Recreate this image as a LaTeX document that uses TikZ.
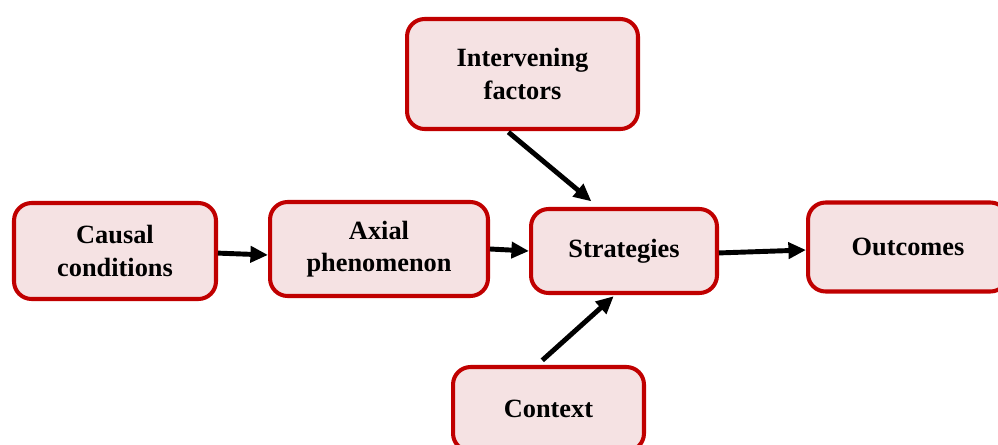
\documentclass[tikz,border=0pt]{standalone}
\usepackage{fontspec}
\setmainfont{Liberation Serif}
\usetikzlibrary{arrows.meta}

\definecolor{boxred}{HTML}{C00000}
\definecolor{boxfill}{HTML}{F5E2E3}

\tikzset{
  stage/.style={draw=boxred,fill=boxfill,line width=2.3pt,rounded corners=10pt,
    align=center,inner sep=0pt,font=\bfseries\fontsize{15}{18.6}\selectfont},
  flow/.style={line width=2.8pt,-{Triangle[length=10pt,width=9pt]}}
}

\begin{document}
\begin{tikzpicture}[x=0.02cm,y=-0.02cm]
  \useasboundingbox (0,0) rectangle (998,444);
  % boxes, placed at pixel centres
  \node[stage,minimum width=4.04cm,minimum height=1.92cm] (causal) at (115,251) {Causal\\conditions};
  \node[stage,minimum width=4.36cm,minimum height=1.88cm] (axial) at (379,249) {Axial\\phenomenon};
  \node[stage,minimum width=3.72cm,minimum height=1.68cm] (strat) at (624,251) {Strategies};
  \node[stage,minimum width=4.0cm,minimum height=1.78cm] (outc) at (908,247) {Outcomes};
  \node[stage,minimum width=4.62cm,minimum height=2.20cm] (interv) at (522.5,74) {Intervening\\factors};
  \node[stage,minimum width=3.82cm,minimum height=1.68cm] (context) at (548.5,409) {Context};
  % arrows
  \draw[flow] ([yshift=-1.2pt]causal.east) -- ([yshift=-3.4pt]axial.west);
  \draw[flow] (axial.east) -- (strat.west);
  \draw[flow] ([yshift=-1.1pt]strat.east) -- ([yshift=-1.7pt]outc.west);
  \draw[flow,shorten <=1pt,shorten >=5pt] ([xshift=-8.8pt]interv.south) -- ([xshift=-14.7pt]strat.north);
  \draw[flow,shorten <=4pt,shorten >=1pt] ([xshift=-6.5pt]context.north) -- ([xshift=-5.1pt]strat.south);
\end{tikzpicture}
\end{document}
